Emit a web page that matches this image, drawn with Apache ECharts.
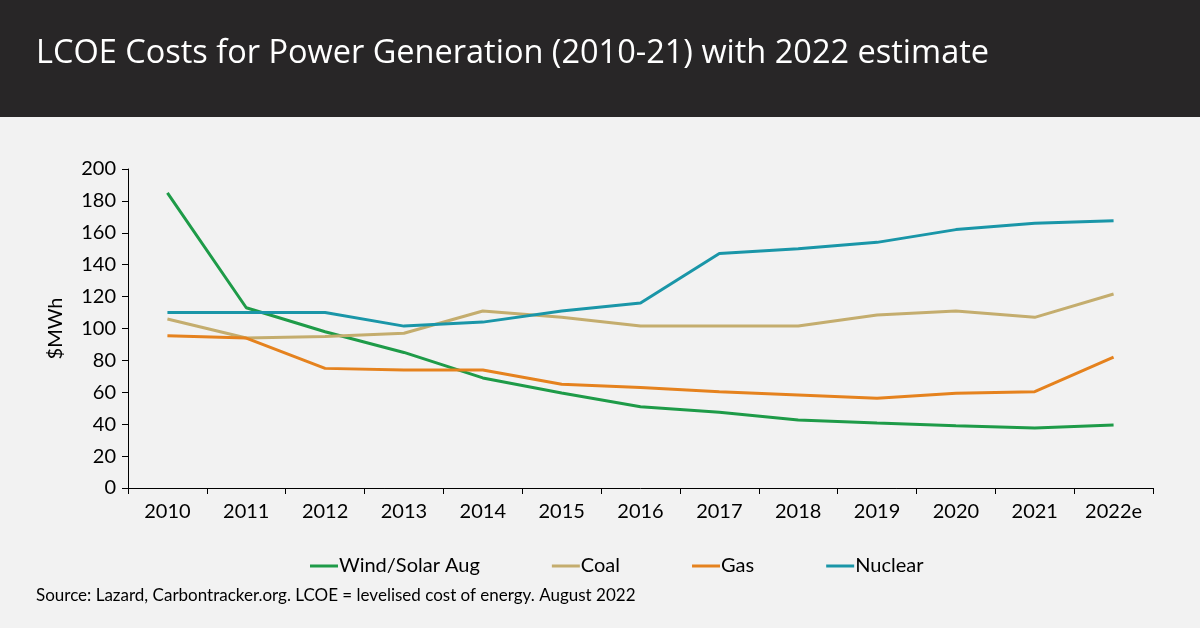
<!DOCTYPE html>
<html><head><meta charset="utf-8">
<script src="https://cdn.jsdelivr.net/npm/echarts@6/dist/echarts.min.js"></script>
<style>html,body{margin:0;padding:0;background:#f2f2f2}#c{width:1200px;height:628px}</style>
</head><body><div id="c"></div>
<script>
const categories = ['2010','2011','2012','2013','2014','2015','2016','2017','2018','2019','2020','2021','2022e'];
const windSolar = [185,113,98,85,69,59.5,51,47.5,42.6,40.7,39,37.6,39.5];
const coal = [106,94,95,97,111,107,101.5,101.5,101.5,108.5,111,107,121.6];
const gas = [95.5,94,75,74,74,65,63,60.4,58.3,56.2,59.4,60.4,82];
const nuclear = [110,110,110,101.5,104,111,116,147,150,154,162,166,167.6];
const yTicks = [0,20,40,60,80,100,120,140,160,180,200];

const FONT = 'Lato';
const chart = echarts.init(document.getElementById('c'));
const mk = (name, data, color) => ({
  name, type: 'line', data, symbol: 'none', smooth: false,
  lineStyle: { color, width: 3 }, itemStyle: { color }
});
chart.setOption({
  backgroundColor: '#f2f2f2',
  animation: false,
  graphic: [
    { type: 'rect', left: 0, top: 0, shape: { width: 1200, height: 117 }, style: { fill: '#282627' } },
    { type: 'text', left: 36, top: 37, style: { text: 'LCOE Costs for Power Generation (2010-21) with 2022 estimate', fill: '#ffffff', font: '32.5px "Open Sans"' } },
    { type: 'text', left: 36, top: 587, style: { text: 'Source: Lazard, Carbontracker.org. LCOE = levelised cost of energy. August 2022', fill: '#000000', font: '17px ' + FONT } }
  ],
  grid: { left: 128, right: 47, top: 169, bottom: 140 },
  legend: {
    top: 551, left: 305, icon: 'rect', itemWidth: 28, itemHeight: 3, itemGap: 72,
    textStyle: { fontFamily: FONT, fontSize: 20, color: '#000', padding: [0,0,0,-4] },
    data: ['Wind/Solar Aug','Coal','Gas','Nuclear']
  },
  xAxis: {
    type: 'category', data: categories, boundaryGap: true,
    axisLine: { lineStyle: { color: '#000', width: 1 } },
    axisTick: { show: true, length: 6, lineStyle: { color: '#000' } },
    axisLabel: { fontFamily: FONT, fontSize: 20, color: '#000', margin: 14 }
  },
  yAxis: {
    type: 'value', min: 0, max: 200, interval: 20,
    name: '$MWh', nameLocation: 'middle', nameGap: 62, nameRotate: 90,
    nameTextStyle: { fontFamily: FONT, fontSize: 20, color: '#000' },
    axisLine: { show: true, lineStyle: { color: '#000', width: 1 } },
    axisTick: { show: true, length: 6, lineStyle: { color: '#000' } },
    splitLine: { show: false },
    axisLabel: { fontFamily: FONT, fontSize: 20, color: '#000', margin: 12,
      formatter: v => yTicks.includes(v) ? String(v) : '' }
  },
  series: [
    mk('Wind/Solar Aug', windSolar, '#1e9b48'),
    mk('Coal', coal, '#c4ad6e'),
    mk('Gas', gas, '#e5821e'),
    mk('Nuclear', nuclear, '#1a96a8')
  ]
});
</script></body></html>
